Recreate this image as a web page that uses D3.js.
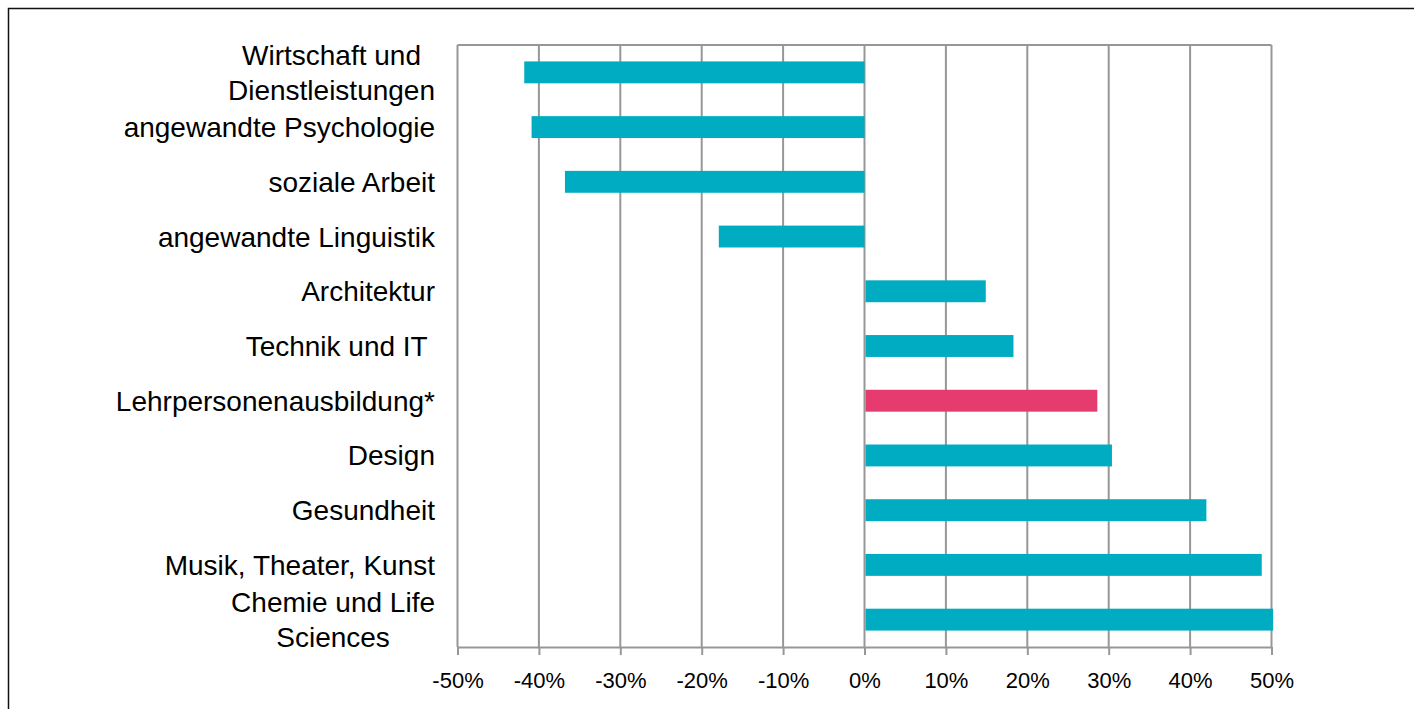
<!DOCTYPE html>
<html>
<head>
<meta charset="utf-8">
<script src="https://cdn.jsdelivr.net/npm/d3@7"></script>
<style>
  html, body { margin: 0; padding: 0; background: #fff; }
  svg { display: block; }
  text { font-family: "Liberation Sans", Arial, Helvetica, sans-serif; }
</style>
</head>
<body>
<svg id="chart" width="1414" height="709"></svg>
<script>
const categories = [
  "Wirtschaft und \nDienstleistungen",
  "angewandte Psychologie",
  "soziale Arbeit",
  "angewandte Linguistik",
  "Architektur",
  "Technik und IT ",
  "Lehrpersonenausbildung*",
  "Design",
  "Gesundheit",
  "Musik, Theater, Kunst",
  "Chemie und Life \nSciences"
];
const values = [-0.418, -0.409, -0.368, -0.179, 0.149, 0.183, 0.286, 0.304, 0.420, 0.488, 0.502];
const highlight = ["Lehrpersonenausbildung*"];
const tickValues = [-0.5, -0.4, -0.3, -0.2, -0.1, 0, 0.1, 0.2, 0.3, 0.4, 0.5];
const tickLabels = ["-50%", "-40%", "-30%", "-20%", "-10%", "0%", "10%", "20%", "30%", "40%", "50%"];

(function () {
const svg = d3.select("#chart");
const pLeft = 457.5, pRight = 1271.5, pTop = 45, pBottom = 647;
const gridColor = "#979797";

// outer frame (only top/left visible)
svg.append("rect").attr("x", 8.5).attr("y", 8.5).attr("width", 1500).attr("height", 800)
  .attr("fill", "none").attr("stroke", "#111").attr("stroke-width", 1.5);

const x = d3.scaleLinear().domain([-0.5, 0.5]).range([pLeft, pRight]);
const y = d3.scaleBand().domain(categories).range([pTop, pBottom]).paddingInner(0.6).paddingOuter(0.3);

// gridlines
svg.append("g").selectAll("line").data(tickValues).join("line")
  .attr("x1", d => x(d)).attr("x2", d => x(d))
  .attr("y1", pTop).attr("y2", pBottom)
  .attr("stroke", gridColor).attr("stroke-width", 2);
// top border
svg.append("line").attr("x1", pLeft).attr("x2", pRight).attr("y1", pTop).attr("y2", pTop)
  .attr("stroke", gridColor).attr("stroke-width", 2);

// bars
svg.append("g").selectAll("rect").data(categories).join("rect")
  .attr("x", (d, i) => values[i] < 0 ? x(values[i]) : x(0) + 1)
  .attr("width", (d, i) => values[i] < 0 ? x(0) - x(values[i]) : x(values[i]) - x(0) - 1)
  .attr("y", d => y(d))
  .attr("height", y.bandwidth())
  .attr("fill", d => highlight.includes(d) ? "#E63B6F" : "#00ACC2");

// x axis
const xAxis = d3.axisBottom(x).tickValues(tickValues)
  .tickFormat((d, i) => tickLabels[i]).tickSizeInner(8).tickSizeOuter(0);
const gx = svg.append("g").attr("transform", `translate(0,${pBottom})`).call(xAxis);
gx.select(".domain").attr("stroke", gridColor).attr("stroke-width", 2);
gx.selectAll(".tick line").attr("stroke", gridColor).attr("stroke-width", 2);
gx.selectAll(".tick text")
  .attr("y", 41).attr("dy", 0)
  .attr("font-size", 22)
  .attr("fill", "#000")
  .style("font-family", "'Liberation Sans', Arial, sans-serif");

// category labels
const labelRight = 435;
const lg = svg.append("g");
categories.forEach(c => {
  const lines = c.split("\n");
  const cy = y(c) + y.bandwidth() / 2;
  if (lines.length === 1) {
    lg.append("text").attr("x", labelRight).attr("y", cy + 10)
      .attr("text-anchor", "end").attr("font-size", 28).attr("fill", "#000")
      .style("white-space", "pre").text(lines[0]);
  } else {
    const lh = 35;
    const texts = lines.map((l, j) => lg.append("text")
      .attr("y", cy + 10 + (j - (lines.length - 1) / 2) * lh)
      .attr("text-anchor", "middle").attr("font-size", 28).attr("fill", "#000")
      .text(l.trim()));
    const maxW = d3.max(texts, t => t.node().getComputedTextLength());
    texts.forEach(t => t.attr("x", labelRight - maxW / 2));
  }
});
})();
</script>
</body>
</html>
